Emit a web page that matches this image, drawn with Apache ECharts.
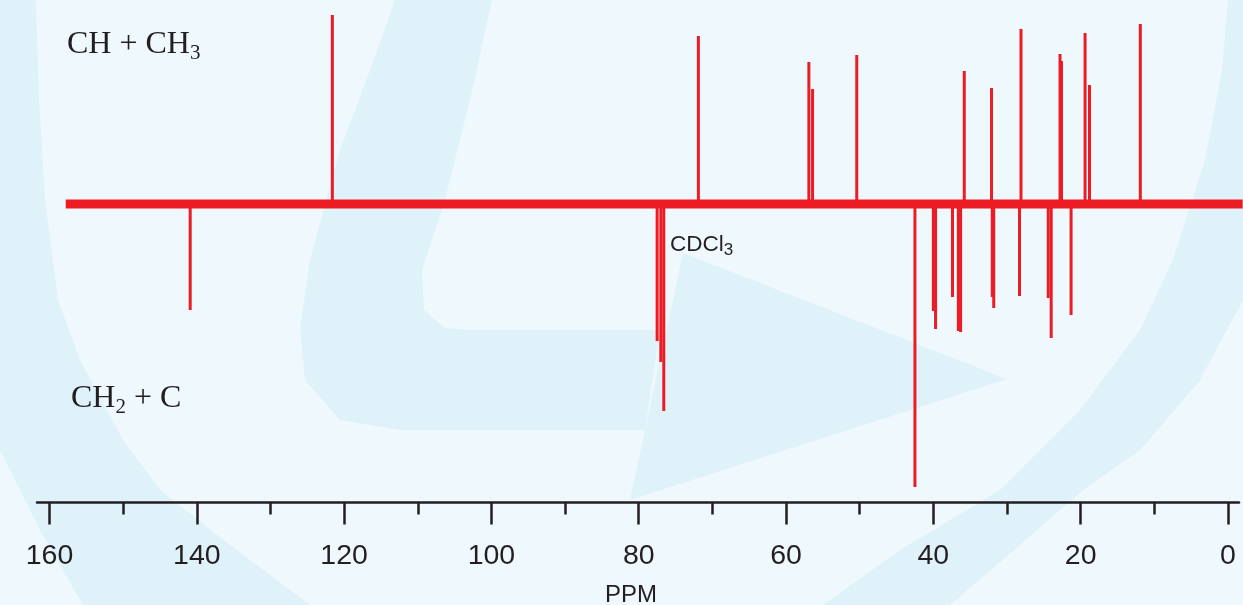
<!DOCTYPE html>
<html>
<head>
<meta charset="utf-8">
<script src="https://cdn.jsdelivr.net/npm/echarts@6/dist/echarts.min.js"></script>
<style>
html,body{margin:0;padding:0;background:#eff8fd;}
#chart{width:1243px;height:605px;}
</style>
</head>
<body>
<div id="chart"></div>
<script>
// ---- data (chemical shift in ppm, intensity in arbitrary units) ----
const upPeakPpm = [121.6, 71.9, 56.9, 56.4, 50.4, 35.8, 32.1, 28.1, 22.8, 22.6, 19.4, 18.8, 11.9];
const upPeakHeight = [189, 168, 142, 115, 149, 133, 116, 175, 150, 143, 171, 119, 180];
const downPeakPpm = [140.9, 42.5, 40.0, 39.7, 37.4, 36.6, 36.3, 32.0, 31.8, 28.3, 24.4, 24.0, 21.3];
const downPeakHeight = [-106, -283, -107, -125, -93, -127, -128, -93, -104, -92, -94, -134, -111];
const solventPpm = [77.5, 77.0, 76.6];
const solventHeight = [-137, -158, -207];
const baselinePpm = [157.8, -2.0];
const baselineHeight = [0, 0];
const majorTickValues = [0, 20, 40, 60, 80, 100, 120, 140, 160];
const minorTickValues = [10, 30, 50, 70, 90, 110, 130, 150];
const ppmRange = [-1.5, 161.7];
const intensityRange = [-298.5, 200];

const peaks = [];
upPeakPpm.forEach((p, i) => peaks.push([p, upPeakHeight[i]]));
downPeakPpm.forEach((p, i) => peaks.push([p, downPeakHeight[i]]));
solventPpm.forEach((p, i) => peaks.push([p, solventHeight[i]]));
const baseline = baselinePpm.map((p, i) => [p, baselineHeight[i]]);

const RED = '#ed1c24';
const INK = '#231f20';
const SHADE = '#dff2fa';
const serif = "'Liberation Serif', 'Times New Roman', serif";
const sans = "'Liberation Sans', Arial, sans-serif";

// decorative watermark shapes (background only)
const shapes = [
  [[0,0],[36,0],[39,100],[45,200],[58,300],[80,360],[123,440],[160,490],[230,545],[310,605],[83,605],[40,530],[0,450]],
  [[395,0],[492,0],[470,100],[445,200],[422,270],[424,310],[445,328],[470,330],[660,330],[645,430],[400,430],[340,420],[305,380],[300,330],[310,260],[340,150],[370,70]],
  [[683,253],[1007,379],[630,500]],
  [[1228,0],[1243,0],[1243,300],[1200,380],[1140,450],[1083,490],[1020,545],[950,605],[823,605],[900,550],[1000,490],[1080,410],[1140,330],[1173,260],[1205,160],[1222,70]]
];

const chart = echarts.init(document.getElementById('chart'), null, {renderer: 'canvas'});
chart.setOption({
  backgroundColor: '#eff8fd',
  animation: false,
  graphic: shapes.map(pts => ({type: 'polygon', z: -100, silent: true, shape: {points: pts}, style: {fill: SHADE}})),
  title: [
    {
      text: '{a|CH + CH}{s|3}', left: 67, top: 24.5, padding: 0,
      textStyle: {fontWeight: 'normal', rich: {
        a: {fontFamily: serif, fontWeight: 'normal', fontSize: 32, lineHeight: 40, color: INK},
        s: {fontFamily: serif, fontWeight: 'normal', fontSize: 21, lineHeight: 22, padding: [18, 0, 0, 0], color: INK}
      }}
    },
    {
      text: '{a|CH}{s|2}{a| + C}', left: 71, top: 378.8, padding: 0,
      textStyle: {fontWeight: 'normal', rich: {
        a: {fontFamily: serif, fontWeight: 'normal', fontSize: 32, lineHeight: 40, color: INK},
        s: {fontFamily: serif, fontWeight: 'normal', fontSize: 21, lineHeight: 22, padding: [18, 0, 0, 0], color: INK}
      }}
    },
    {
      text: '{a|CDCl}{s|3}', left: 670, top: 231, padding: 0,
      textStyle: {fontWeight: 'normal', rich: {
        a: {fontFamily: sans, fontWeight: 'normal', fontSize: 22.5, lineHeight: 28, color: INK},
        s: {fontFamily: sans, fontWeight: 'normal', fontSize: 17, lineHeight: 17, padding: [10, 0, 0, 0], color: INK}
      }}
    }
  ],
  grid: {left: 37, right: 4, top: 4, bottom: 102.5, containLabel: false, outerBoundsMode: 'none'},
  xAxis: [
    {
      type: 'value', inverse: true, min: ppmRange[0], max: ppmRange[1],
      position: 'bottom',
      name: 'PPM', nameLocation: 'middle', nameGap: 81,
      nameTextStyle: {fontFamily: sans, fontSize: 24, color: INK, padding: [0, 14, 0, 0]},
      axisLine: {show: true, onZero: false, lineStyle: {color: INK, width: 2.5}},
      axisTick: {show: true, customValues: majorTickValues, length: 22, inside: false, lineStyle: {color: INK, width: 2.5}},
      axisLabel: {show: true, customValues: majorTickValues, margin: 39, fontFamily: sans, fontSize: 28.5, color: INK},
      splitLine: {show: false}
    },
    {
      type: 'value', inverse: true, min: ppmRange[0], max: ppmRange[1],
      position: 'bottom',
      axisLine: {show: false, onZero: false},
      axisTick: {show: true, customValues: minorTickValues, length: 12, inside: false, lineStyle: {color: INK, width: 2.5}},
      axisLabel: {show: false},
      splitLine: {show: false}
    }
  ],
  yAxis: {type: 'value', show: false, min: intensityRange[0], max: intensityRange[1], splitLine: {show: false}},
  series: [
    {
      type: 'line', name: 'baseline', data: baseline, symbol: 'none', clip: false,
      lineStyle: {color: RED, width: 9}, z: 3
    },
    {
      type: 'bar', name: 'peaks', data: peaks, barWidth: 3,
      itemStyle: {color: RED}, z: 4
    }
  ]
});
</script>
</body>
</html>
